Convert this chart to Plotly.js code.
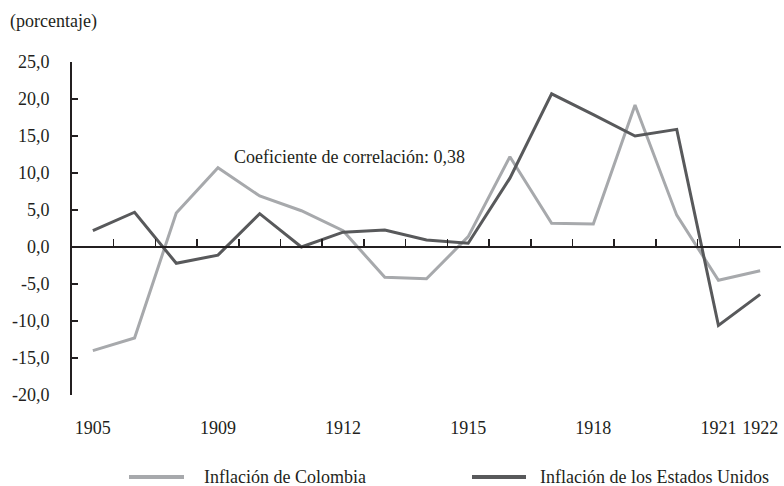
<!DOCTYPE html>
<html>
<head>
<meta charset="utf-8">
<script src="https://cdn.plot.ly/plotly-3.0.1.min.js"></script>
<style>html,body{margin:0;padding:0;background:#fff}#chart{width:784px;height:486px}</style>
</head>
<body>
<div id="chart"></div>
<script>
// Categories (1908 is absent in the source series)
const years = ["1905","1906","1907","1909","1910","1911","1912","1913","1914","1915","1916","1917","1918","1919","1920","1921","1922"];
const labeledYears = ["1905","1909","1912","1915","1918","1921","1922"];
const inflColombia = [-14.0, -12.3, 4.6, 10.7, 6.9, 4.9, 2.2, -4.1, -4.3, 1.4, 12.2, 3.2, 3.1, 19.2, 4.3, -4.5, -3.2];
const inflUSA = [2.2, 4.7, -2.2, -1.1, 4.5, 0.0, 2.0, 2.3, 0.95, 0.5, 9.3, 20.7, 17.9, 15.0, 15.9, -10.6, -6.4];
const seriesNames = ["Inflación de Colombia", "Inflación de los Estados Unidos"];
const yTickVals = [-20, -15, -10, -5, 0, 5, 10, 15, 20, 25];
const yTickText = ["-20,0", "-15,0", "-10,0", "-5,0", "0,0", "5,0", "10,0", "15,0", "20,0", "25,0"];
const yAxisNote = "(porcentaje)";
const corrNote = "Coeficiente de correlación: 0,38";

const colColombia = "#a7a9ac";
const colUSA = "#58595b";
const axisCol = "#231f20";
const fontFam = "Liberation Serif, Times New Roman, serif";
const fs = 18;

const xTickText = years.map(y => labeledYears.includes(y) ? y : "");

const traces = [
  {x: years, y: inflColombia, type: "scatter", mode: "lines", name: seriesNames[0],
   line: {color: colColombia, width: 3}, showlegend: false},
  {x: years, y: inflUSA, type: "scatter", mode: "lines", name: seriesNames[1],
   line: {color: colUSA, width: 3}, showlegend: false}
];

const yMin = -20, yMax = 25;
const zeroFrac = (0 - yMin) / (yMax - yMin);

const layout = {
  width: 784, height: 486,
  margin: {l: 72, r: 3, t: 62, b: 91},
  paper_bgcolor: "#fff", plot_bgcolor: "#fff",
  font: {family: fontFam, size: fs, color: axisCol},
  showlegend: false,
  xaxis: {
    type: "category",
    range: [-0.5, 16.5],
    anchor: "free", position: zeroFrac, side: "bottom",
    showline: true, linecolor: axisCol, linewidth: 2,
    showgrid: false, zeroline: false,
    tickmode: "array", tickvals: years, ticktext: xTickText,
    tickson: "boundaries", tickangle: 0,
    ticks: "inside", ticklen: 7, tickwidth: 1.5, tickcolor: axisCol,
    ticklabelstandoff: 164,
    tickfont: {family: fontFam, size: fs, color: axisCol},
    fixedrange: true
  },
  yaxis: {
    range: [yMin, yMax],
    showline: true, linecolor: axisCol, linewidth: 2,
    showgrid: false, zeroline: false,
    tickmode: "array", tickvals: yTickVals, ticktext: yTickText,
    ticks: "inside", ticklen: 6, tickwidth: 2, tickcolor: axisCol,
    ticklabelstandoff: 17,
    tickfont: {family: fontFam, size: fs, color: axisCol},
    fixedrange: true
  },
  annotations: [
    {text: yAxisNote, xref: "paper", yref: "paper", x: -0.0903, y: 1.123,
     xanchor: "left", yanchor: "middle", showarrow: false,
     font: {family: fontFam, size: fs, color: axisCol}},
    {text: corrNote, xref: "paper", yref: "paper", x: 0.2257, y: 0.7147,
     xanchor: "left", yanchor: "middle", showarrow: false,
     font: {family: fontFam, size: fs, color: axisCol}},
    {text: seriesNames[0], xref: "paper", yref: "paper", x: (202 - 72) / 709, y: (395 - 477) / 333,
     xanchor: "left", yanchor: "middle", showarrow: false,
     font: {family: fontFam, size: fs, color: axisCol}},
    {text: seriesNames[1], xref: "paper", yref: "paper", x: (538 - 72) / 709, y: (395 - 477) / 333,
     xanchor: "left", yanchor: "middle", showarrow: false,
     font: {family: fontFam, size: fs, color: axisCol}}
  ],
  shapes: [
    {type: "line", xref: "paper", yref: "paper",
     x0: (129 - 72) / 709, x1: (184 - 72) / 709, y0: (395 - 477) / 333, y1: (395 - 477) / 333,
     line: {color: colColombia, width: 4}},
    {type: "line", xref: "paper", yref: "paper",
     x0: (472 - 72) / 709, x1: (526 - 72) / 709, y0: (395 - 477) / 333, y1: (395 - 477) / 333,
     line: {color: colUSA, width: 4}}
  ]
};

Plotly.newPlot("chart", traces, layout, {displayModeBar: false, staticPlot: true});
</script>
</body>
</html>
